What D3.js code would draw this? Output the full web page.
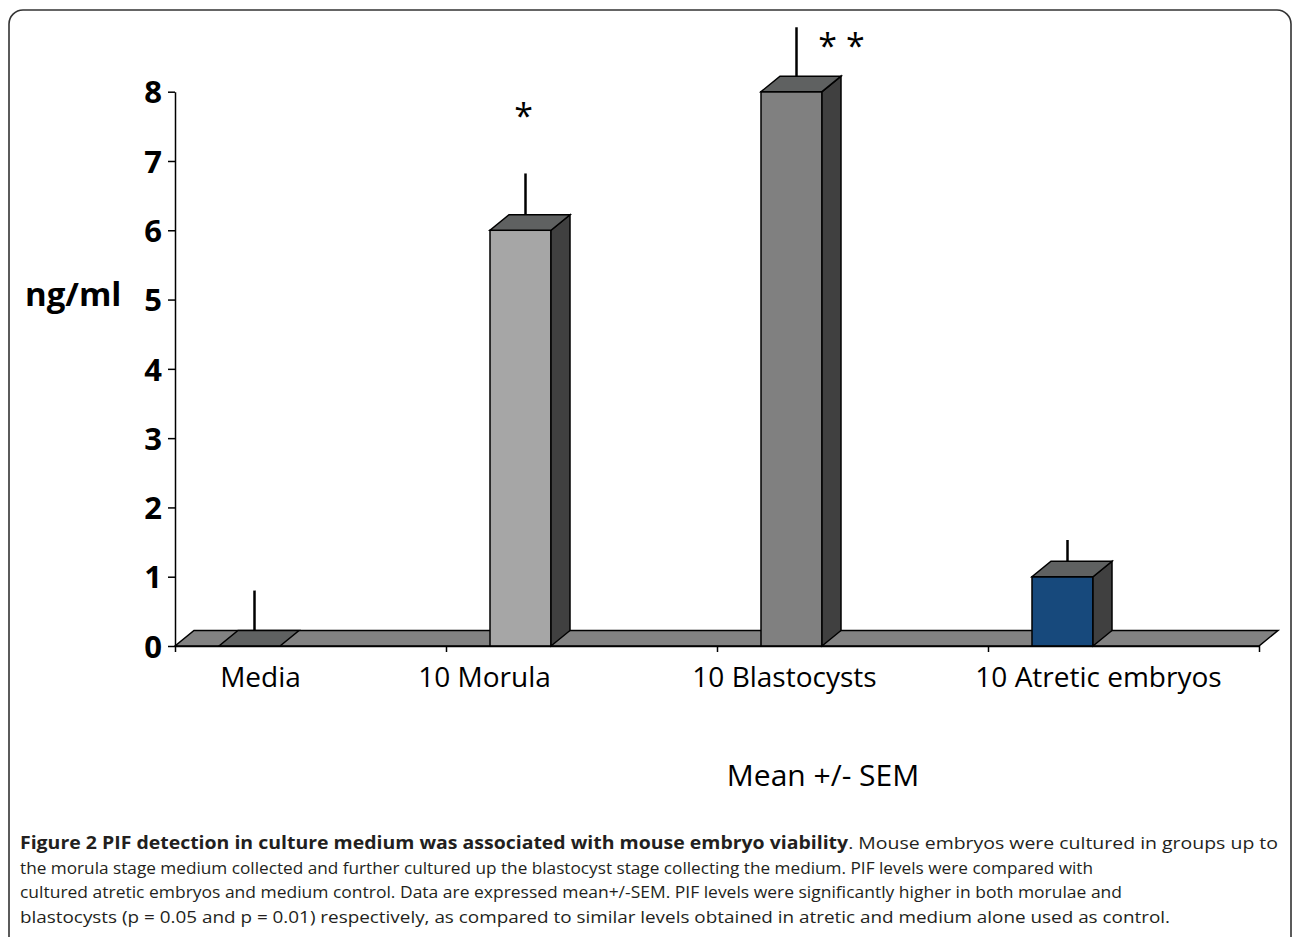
<!DOCTYPE html>
<meta charset="utf-8">
<style>
  body { margin: 0; background: #fff; }
  svg text { font-family: "Open Sans", sans-serif; }
</style>
<body>
<script src="https://cdn.jsdelivr.net/npm/d3@7"></script>
<script>

////*Data*////
const categories = ["Media", "10 Morula", "10 Blastocysts", "10 Atretic embryos"];
const means = [0, 6, 8, 1];
const sems = [0.8, 0.82, 0.93, 0.53];
const stars = ["", "*", "* *", ""];
const starLevels = [null, 7.47, 8.49, null];   // where the significance marks sit, in ng/ml
const yTicks = [0, 1, 2, 3, 4, 5, 6, 7, 8];

const captionBold = "Figure 2 PIF detection in culture medium was associated with mouse embryo viability";
const captionLines = [
   ". Mouse embryos were cultured in groups up to",
   "the morula stage medium collected and further cultured up the blastocyst stage collecting the medium. PIF levels were compared with",
   "cultured atretic embryos and medium control. Data are expressed mean+/-SEM. PIF levels were significantly higher in both morulae and",
   "blastocysts (p = 0.05 and p = 0.01) respectively, as compared to similar levels obtained in atretic and medium alone used as control."
];

////*Layout and styles*////
const W = 1293, H = 937;
const plot = { left: 175, right: 1259, top: 91.7, bottom: 646 };
const depth = { dx: 19, dy: -15.5 };
const barOffset = 44, barWidth = 61;
const labelNudge = [-50, -97, -68, -25];   // labels sit off-centre in the original
const starNudge = [0, 3, 50, 0];
const frontColors = ["#5f605f", "#a6a6a6", "#808080", "#17497c"];
const lineWidths = [1258, 1073, 1102, 1150];

const svg = d3.select("body").append("svg")
   .attr("width", W)
   .attr("height", H);

// rounded frame
svg.append("rect")
   .attr("x", 9).attr("y", 10)
   .attr("width", 1282).attr("height", 1000)
   .attr("rx", 14).attr("ry", 14)
   .attr("fill", "none")
   .attr("stroke", "#333")
   .attr("stroke-width", 1.6);

const y = d3.scaleLinear().domain([0, 8]).range([plot.bottom, plot.top]);
const x = d3.scaleBand().domain(categories).range([plot.left, plot.right]);
const edge = d3.scaleLinear().domain([0, categories.length]).range([plot.left, plot.right]);
const colour = d3.scaleOrdinal(categories, frontColors);

// floor
const floorPts = [
   [plot.left, plot.bottom], [plot.right, plot.bottom],
   [plot.right + depth.dx, plot.bottom + depth.dy], [plot.left + depth.dx, plot.bottom + depth.dy]
];
svg.append("polygon")
   .attr("points", floorPts.map(p => p.join(",")).join(" "))
   .attr("fill", "#828282")
   .attr("stroke", "#000")
   .attr("stroke-width", 1.5);

// bars
const bars = svg.append("g").selectAll("g")
   .data(categories.map((c, i) => ({ c, v: means[i], e: sems[i], s: stars[i], lvl: starLevels[i], i })))
   .join("g");

bars.each(function(d) {
   const g = d3.select(this);
   const x0 = x(d.c) + barOffset, x1 = x0 + barWidth;
   const yt = y(d.v), yb = y(0);
   const dx = depth.dx, dy = depth.dy;
   if (d.v > 0) {
      g.append("rect")
         .attr("x", x0).attr("y", yt)
         .attr("width", barWidth).attr("height", yb - yt)
         .attr("fill", colour(d.c))
         .attr("stroke", "#000").attr("stroke-width", 1.5);
      g.append("polygon")
         .attr("points", [[x1, yt], [x1 + dx, yt + dy], [x1 + dx, yb + dy], [x1, yb]].map(p => p.join(",")).join(" "))
         .attr("fill", "#404040")
         .attr("stroke", "#000").attr("stroke-width", 1.5);
   }
   g.append("polygon")
      .attr("points", [[x0, yt], [x1, yt], [x1 + dx, yt + dy], [x0 + dx, yt + dy]].map(p => p.join(",")).join(" "))
      .attr("fill", "#5f6161")
      .attr("stroke", "#000").attr("stroke-width", 1.5);

   // error bar, rising from the back of the top face
   const ex = (x0 + x1) / 2 + 5;
   g.append("line")
      .attr("x1", ex).attr("x2", ex)
      .attr("y1", yt + dy).attr("y2", y(d.v + d.e))
      .attr("stroke", "#000").attr("stroke-width", 2.5);

   if (d.s) {
      g.append("text")
         .attr("x", (x0 + x1) / 2 + starNudge[d.i])
         .attr("y", y(d.lvl))
         .attr("text-anchor", "middle")
         .style("font-size", "34px")
         .style("fill", "#000")
         .text(d.s);
   }
});

// axes
const yAxis = d3.axisLeft(y).tickValues(yTicks).tickSize(7).tickSizeOuter(0).tickPadding(6);
const gy = svg.append("g")
   .attr("transform", `translate(${plot.left},0)`)
   .call(yAxis);
gy.selectAll("text")
   .style("font-size", "31px")
   .style("font-weight", "bold")
   .style("fill", "#000")
   .attr("dy", "0.36em");
gy.selectAll("line, path").attr("stroke", "#000").attr("stroke-width", 1.5);

const xAxis = d3.axisBottom(edge).tickValues(d3.range(categories.length + 1)).tickSize(6).tickSizeOuter(0).tickFormat("");
const gx = svg.append("g")
   .attr("transform", `translate(0,${plot.bottom})`)
   .call(xAxis);
gx.selectAll("line, path").attr("stroke", "#000").attr("stroke-width", 1.5);

svg.append("g").selectAll("text")
   .data(categories)
   .join("text")
   .attr("x", (d, i) => x(d) + x.bandwidth() / 2 + labelNudge[i])
   .attr("y", 687)
   .attr("text-anchor", "middle")
   .style("font-size", "28px")
   .style("fill", "#000")
   .text(d => d);

svg.append("text")
   .attr("x", 25).attr("y", 306)
   .style("font-size", "33px")
   .style("font-weight", "bold")
   .style("fill", "#000")
   .text("ng/ml");

svg.append("text")
   .attr("x", 823).attr("y", 786)
   .attr("text-anchor", "middle")
   .style("font-size", "30px")
   .style("fill", "#000")
   .text("Mean +/- SEM");

// caption
const cap = svg.append("g").style("font-size", "17px").style("fill", "#231f20");
cap.selectAll("text")
   .data(captionLines)
   .join("text")
   .attr("x", 20)
   .attr("y", (d, i) => 849 + i * 24.6)
   .attr("textLength", (d, i) => lineWidths[i])
   .attr("lengthAdjust", "spacingAndGlyphs")
   .each(function(d, i) {
      const t = d3.select(this);
      if (i === 0) {
         t.append("tspan").style("font-weight", "bold").text(captionBold);
         t.append("tspan").text(d);
      } else {
         t.text(d);
      }
   });

</script>
</body>
</html>
